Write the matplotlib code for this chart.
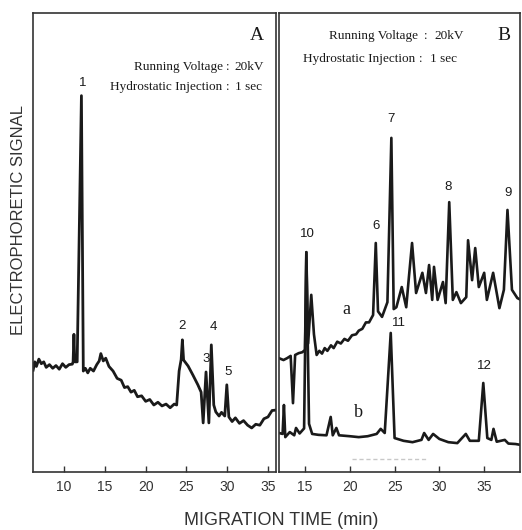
import numpy as np
import matplotlib.pyplot as plt

# Panel A trace (migration time in min, signal in arbitrary units)
a_time = [6.2, 6.4, 6.6, 6.9, 7.2, 7.5, 7.8, 8.2, 8.6, 9.0, 9.4, 9.8, 10.2, 10.6, 11.0,
          11.1, 11.2, 11.3, 11.6, 12.12, 12.35, 12.6, 12.9, 13.2, 13.6, 14.0, 14.3, 14.5,
          14.8, 15.1, 15.5, 16.0, 16.5, 17.0, 17.4, 17.8, 18.2, 18.6, 19.0, 19.5, 20.0,
          20.5, 21.0, 21.5, 22.0, 22.5, 23.0, 23.5, 23.8, 24.1, 24.35, 24.5, 24.65, 25.2,
          25.8, 26.4, 26.8, 27.05, 27.4, 27.75, 28.05, 28.35, 28.6, 29.0, 29.3, 29.7, 29.95,
          30.2, 30.6, 31.0, 31.5, 32.0, 32.5, 33.0, 33.5, 34.0, 34.5, 35.0, 35.5, 36.0]
a_signal = [22.2, 24.0, 23.0, 24.6, 23.6, 24.0, 22.8, 23.4, 22.6, 23.2, 22.4, 23.6, 22.8, 23.4, 23.5,
            24.0, 30.0, 24.0, 24.0, 82.0, 22.0, 22.6, 21.6, 22.6, 22.0, 23.4, 24.2, 25.8,
            24.2, 24.8, 23.0, 22.0, 20.4, 20.0, 18.4, 18.6, 17.4, 17.8, 16.4, 16.6, 15.4,
            15.8, 14.6, 15.2, 14.4, 14.8, 14.0, 14.8, 14.6, 22.0, 24.5, 28.8, 24.4, 23.1,
            21.1, 19.0, 17.4, 10.7, 21.8, 10.7, 27.7, 14.6, 13.1, 12.2, 13.0, 12.2, 19.0,
            12.0, 11.0, 11.8, 10.6, 11.2, 10.2, 9.6, 10.4, 10.2, 11.6, 12.0, 13.4, 13.5]

# Panel B, trace a
ba_time = [12.1, 12.6, 13.0, 13.4, 13.66, 13.9, 14.3, 14.7, 15.0, 15.15, 15.35, 15.7, 16.0,
           16.3, 16.6, 16.9, 17.2, 17.5, 17.9, 18.2, 18.6, 19.0, 19.4, 19.8, 20.25, 20.7,
           21.0, 21.4, 21.8, 22.15, 22.6, 22.9, 23.15, 23.6, 24.2,
           24.64, 24.9, 25.2, 25.8, 26.3, 26.6, 26.95, 27.4, 28.1, 28.5, 28.85, 29.2, 29.4,
           29.8, 30.4, 30.7, 31.1, 31.5, 31.9, 32.4, 33.0, 33.2, 33.65, 34.0, 34.4, 35.0,
           35.3, 36.0, 36.7, 37.2, 37.6, 38.1, 38.7, 39.1]
ba_signal = [24.8, 24.4, 24.8, 25.3, 15.0, 25.5, 25.9, 26.1, 26.6, 47.9, 28.0, 38.6, 30.0,
             25.5, 26.4, 25.8, 27.0, 26.4, 27.6, 27.0, 28.4, 28.0, 29.0, 28.6, 29.8, 30.0,
             30.8, 31.2, 32.6, 32.6, 34.2, 49.9, 35.0, 33.8, 37.0,
             72.8, 35.5, 35.9, 40.3, 35.9, 42.5, 49.9, 39.0, 43.4, 39.0, 45.1, 37.5, 44.7,
             37.5, 41.4, 36.8, 58.8, 37.5, 39.2, 36.8, 38.1, 50.5, 41.8, 48.8, 40.3, 43.4,
             37.5, 43.4, 35.7, 39.7, 57.1, 39.7, 37.9, 37.5]

# Panel B, trace b
bb_time = [12.1, 12.5, 12.65, 12.8, 13.3, 13.8, 14.0, 14.4, 14.9, 15.15, 15.45, 15.8, 16.5,
           17.4, 17.87, 18.1, 18.5, 18.8, 20.0, 21.0, 22.0, 23.0, 23.45, 23.9, 24.57, 25.0,
           26.0, 27.0, 28.0, 28.3, 28.8, 29.3, 30.0, 31.0, 32.0, 32.95, 33.4, 34.4, 34.9,
           35.35, 35.8, 36.04, 36.4, 37.3, 37.7, 38.5, 39.1]
bb_signal = [8.5, 8.3, 14.6, 7.6, 8.7, 8.0, 9.6, 8.4, 9.5, 47.9, 10.5, 8.3, 8.1,
             8.0, 12.0, 8.0, 9.6, 8.0, 7.8, 7.6, 7.8, 8.3, 9.4, 8.5, 30.3, 7.4,
             6.8, 6.5, 7.0, 8.5, 7.0, 8.3, 7.2, 6.5, 6.3, 8.3, 6.8, 6.8, 19.4,
             7.4, 7.0, 9.4, 6.6, 7.0, 6.2, 6.1, 5.9]

# peak numbers: (label, time, signal)
peaks_a = [('1', 12.25, 83.5), ('2', 24.5, 30.5), ('3', 27.4, 23.3), ('4', 28.3, 30.3), ('5', 30.05, 20.4)]
peaks_b = [('10', 15.25, 50.5), ('6', 22.9, 52.4), ('7', 24.64, 75.6), ('8', 31.0, 60.8),
           ('9', 37.65, 59.4), ('11', 25.5, 31.1), ('12', 35.0, 21.7), ('a', 19.6, 33.6), ('b', 21.0, 11.1)]

xticks_a = [10, 15, 20, 25, 30, 35]
xticks_b = [15, 20, 25, 30, 35]

plt.rcParams['font.family'] = ['Liberation Sans', 'DejaVu Sans']
ink = '#1a1a1a'

fig = plt.figure(figsize=(5.22, 5.30), dpi=100)
axA = fig.add_axes([0.0632, 0.1094, 0.4655, 0.866])
axB = fig.add_axes([0.5345, 0.1094, 0.4617, 0.866])

axA.plot(a_time, a_signal, color=ink, lw=2.0)
axA.set_xlim(6.18, 35.98)

axB.plot(ba_time, ba_signal, color=ink, lw=1.9)
axB.plot(bb_time, bb_signal, color=ink, lw=1.9)
axB.plot([20.25, 28.6], [2.8, 2.8], color='#c8c8c8', lw=1, ls=(0, (3, 2)))
axB.set_xlim(12.1, 39.0)

for ax, ticks in [(axA, xticks_a), (axB, xticks_b)]:
    ax.set_ylim(0, 100)
    ax.set_yticks([])
    ax.set_xticks(ticks)
    ax.tick_params(axis='x', direction='in', length=4, width=1, pad=6, labelsize=10, colors='#333')
    for s in ax.spines.values():
        s.set_linewidth(1.2)
        s.set_color('#333')

for lab, x, y in peaks_a:
    axA.text(x, y, lab, ha='center', va='bottom', fontsize=9.5, color=ink)
for lab, x, y in peaks_b:
    fs = 13 if lab in ('a', 'b') else 9.5
    fam = 'Liberation Serif' if lab in ('a', 'b') else 'Liberation Sans'
    axB.text(x, y, lab, ha='center', va='bottom', fontsize=fs, color=ink, family=fam)

serif = dict(family='Liberation Serif', color=ink, fontsize=9.5)
axA.text(0.92, 0.95, 'A', transform=axA.transAxes, ha='center', va='center', family='Liberation Serif', fontsize=14, color=ink)
axA.text(0.78, 0.883, 'Running Voltage', transform=axA.transAxes, ha='right', va='center', **serif)
axA.text(0.80, 0.883, ':', transform=axA.transAxes, ha='center', va='center', **serif)
axA.text(0.83, 0.883, '20kV', transform=axA.transAxes, ha='left', va='center', **serif)
axA.text(0.78, 0.839, 'Hydrostatic Injection', transform=axA.transAxes, ha='right', va='center', **serif)
axA.text(0.80, 0.839, ':', transform=axA.transAxes, ha='center', va='center', **serif)
axA.text(0.83, 0.839, '1 sec', transform=axA.transAxes, ha='left', va='center', **serif)

axB.text(0.935, 0.95, 'B', transform=axB.transAxes, ha='center', va='center', family='Liberation Serif', fontsize=14, color=ink)
axB.text(0.575, 0.95, 'Running Voltage', transform=axB.transAxes, ha='right', va='center', **serif)
axB.text(0.610, 0.95, ':', transform=axB.transAxes, ha='center', va='center', **serif)
axB.text(0.645, 0.95, '20kV', transform=axB.transAxes, ha='left', va='center', **serif)
axB.text(0.565, 0.90, 'Hydrostatic Injection', transform=axB.transAxes, ha='right', va='center', **serif)
axB.text(0.590, 0.90, ':', transform=axB.transAxes, ha='center', va='center', **serif)
axB.text(0.625, 0.90, '1 sec', transform=axB.transAxes, ha='left', va='center', **serif)

fig.text(0.036, 0.585, 'ELECTROPHORETIC SIGNAL', rotation=90, ha='center', va='center', fontsize=12, color='#333')
fig.text(0.538, 0.017, 'MIGRATION TIME (min)', ha='center', va='center', fontsize=13, color='#333')

fig.savefig('out.png', dpi=100)
